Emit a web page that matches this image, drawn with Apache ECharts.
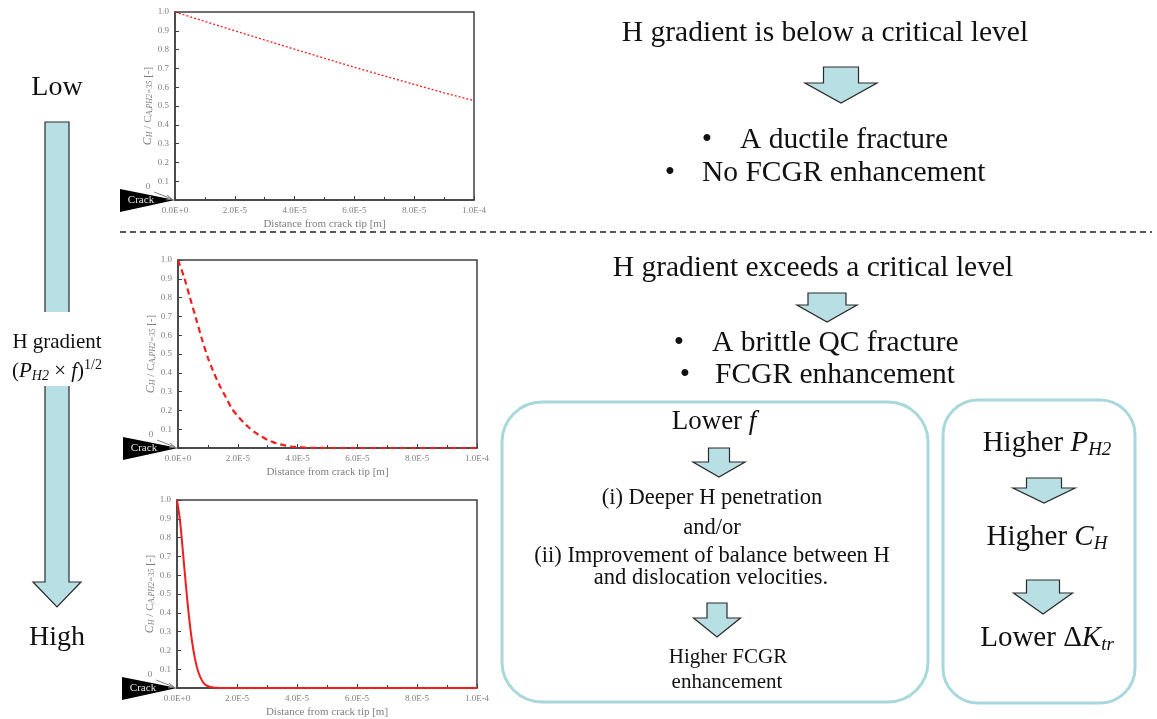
<!DOCTYPE html>
<html>
<head>
<meta charset="utf-8">
<script src="https://cdn.jsdelivr.net/npm/echarts@6/dist/echarts.min.js"></script>
<style>
  html, body { margin: 0; padding: 0; background: #fff; }
  #main { width: 1157px; height: 719px; }
</style>
</head>
<body>
<div id="main"></div>
<script>
// distance from crack tip [m] and normalised H concentration
var distLow = [0, 1e-5, 2e-5, 3e-5, 4e-5, 5e-5, 6e-5, 7e-5, 8e-5, 9e-5, 1e-4];
var concLow = [1.000, 0.950, 0.900, 0.851, 0.802, 0.754, 0.706, 0.660, 0.615, 0.570, 0.528];

var distMid = [0, 2e-6, 4e-6, 6e-6, 8e-6, 1e-5, 1.2e-5, 1.4e-5, 1.6e-5, 1.8e-5, 2e-5,
  2.2e-5, 2.4e-5, 2.6e-5, 2.8e-5, 3e-5, 3.2e-5, 3.4e-5, 3.6e-5, 3.8e-5, 4e-5,
  4.5e-5, 5e-5, 6e-5, 7e-5, 8e-5, 9e-5, 1e-4];
var concMid = [1.00, 0.91, 0.80, 0.69, 0.58, 0.48, 0.40, 0.33, 0.27, 0.21, 0.17,
  0.135, 0.105, 0.08, 0.06, 0.043, 0.03, 0.02, 0.013, 0.008, 0.005,
  0.001, 0, 0, 0, 0, 0, 0];

var distHigh = [0, 1e-6, 2e-6, 3e-6, 4e-6, 5e-6, 6e-6, 7e-6, 8e-6, 9e-6, 1e-5,
  1.2e-5, 1.4e-5, 1.6e-5, 2e-5, 4e-5, 6e-5, 8e-5, 1e-4];
var concHigh = [1.00, 0.89, 0.72, 0.54, 0.38, 0.25, 0.155, 0.09, 0.05, 0.025, 0.012,
  0.003, 0.0005, 0, 0, 0, 0, 0, 0];

var xTickLabels = ['0.0E+0', '2.0E-5', '4.0E-5', '6.0E-5', '8.0E-5', '1.0E-4'];
var yTickLabels = ['', '0.1', '0.2', '0.3', '0.4', '0.5', '0.6', '0.7', '0.8', '0.9', '1.0'];

var FONT = 'Liberation Serif, Times New Roman, serif';
var AXIS = '#404040';
var GREY = '#7f7f7f';
var ARROW_FILL = '#b8dfe3';
var BOX_LINE = '#a9d8dc';
var BIG = 29.5;

function zip(xs, ys) {
  return xs.map(function (x, i) { return [x, ys[i]]; });
}

var grids = [
  { left: 175, top: 12, width: 299, height: 188 },
  { left: 178, top: 260, width: 299, height: 188 },
  { left: 177, top: 500, width: 300, height: 188 }
];
var curves = [
  { data: zip(distLow, concLow), type: [2, 2], width: 1.3, smooth: false },
  { data: zip(distMid, concMid), type: [6, 4], width: 2.2, smooth: 0.3 },
  { data: zip(distHigh, concHigh), type: 'solid', width: 2, smooth: 0.3 }
];

var yName = '{i|C}{s|H}{n| / C}{s|A,PH2=35}{n| [-]}';

var option = {
  animation: false,
  backgroundColor: '#fff',
  grid: grids.map(function (g) {
    return Object.assign({ show: true, borderColor: AXIS, borderWidth: 1.5 }, g);
  }),
  xAxis: grids.map(function (g, i) {
    return {
      type: 'value', gridIndex: i, min: 0, max: 1e-4, interval: 2e-5,
      name: 'Distance from crack tip [m]', nameLocation: 'middle', nameGap: 19,
      nameTextStyle: { color: GREY, fontSize: 11, fontFamily: FONT },
      axisLine: { lineStyle: { color: AXIS, width: 1.5 } },
      axisTick: { inside: true, length: 4, lineStyle: { color: AXIS } },
      minorTick: { show: true, splitNumber: 2, length: 3, lineStyle: { color: AXIS } },
      splitLine: { show: false },
      axisLabel: {
        color: GREY, fontSize: 9, fontFamily: FONT, margin: 6,
        formatter: function (v) { return xTickLabels[Math.round(v / 2e-5)]; }
      }
    };
  }),
  yAxis: grids.map(function (g, i) {
    return {
      type: 'value', gridIndex: i, min: 0, max: 1, interval: 0.1,
      name: yName, nameLocation: 'middle', nameGap: 19,
      nameTextStyle: {
        color: GREY, fontFamily: FONT,
        rich: {
          n: { fontSize: 11, color: GREY, fontFamily: FONT },
          i: { fontSize: 12, color: GREY, fontFamily: FONT, fontStyle: 'italic' },
          s: { fontSize: 8, color: GREY, fontFamily: FONT, fontStyle: 'italic', verticalAlign: 'bottom' }
        }
      },
      axisLine: { lineStyle: { color: AXIS, width: 1.5 } },
      axisTick: { inside: true, length: 4, lineStyle: { color: AXIS } },
      splitLine: { show: false },
      axisLabel: {
        color: GREY, fontSize: 9, fontFamily: FONT, margin: 6,
        formatter: function (v) { return yTickLabels[Math.round(v * 10)]; }
      }
    };
  }),
  series: curves.map(function (c, i) {
    return {
      type: 'line', xAxisIndex: i, yAxisIndex: i, data: c.data,
      showSymbol: false, smooth: c.smooth,
      lineStyle: { color: '#f01e1e', width: c.width, type: c.type }
    };
  })
};

var chart = echarts.init(document.getElementById('main'));
chart.setOption(option);

// ---- diagram parts around the plots ----
function text(x, y, str, size, extra) {
  return {
    type: 'text', x: x, y: y, z: 20,
    style: Object.assign({
      text: str, fontSize: size, fontFamily: FONT, fill: '#111',
      align: 'center', verticalAlign: 'middle', textAlign: 'center', textVerticalAlign: 'middle'
    }, extra || {})
  };
}
function richSet(size) {
  var sub = Math.round(size * 0.66);
  return {
    n: { fontSize: size, fontFamily: FONT, fill: '#111', lineHeight: size + 4 },
    i: { fontSize: size, fontFamily: FONT, fill: '#111', fontStyle: 'italic', lineHeight: size + 4 },
    s: { fontSize: sub, fontFamily: FONT, fill: '#111', fontStyle: 'italic', verticalAlign: 'bottom', lineHeight: sub + 1 },
    sup: { fontSize: sub, fontFamily: FONT, fill: '#111', verticalAlign: 'top', lineHeight: sub + 2 }
  };
}
function richText(x, y, str, size) {
  return text(x, y, str, size, { rich: richSet(size) });
}
function blockArrow(cx, top, shaftW, headW, headTop, tip) {
  var s = shaftW / 2, h = headW / 2;
  return {
    type: 'polygon', z: 10,
    shape: { points: [[cx - s, top], [cx + s, top], [cx + s, headTop], [cx + h, headTop],
      [cx, tip], [cx - h, headTop], [cx - s, headTop]] },
    style: { fill: ARROW_FILL, stroke: '#2a2a2a', lineWidth: 1.2 }
  };
}
function bullet(bx, tx, y, str, size) {
  return [
    text(bx, y, '\u2022', size),
    text(tx, y, str, size, { align: 'left', textAlign: 'left' })
  ];
}

var graphics = [];

// left gradient arrow
graphics.push(blockArrow(57, 122, 24, 48, 582, 607));
graphics.push({ type: 'rect', z: 15, shape: { x: 30, y: 312, width: 56, height: 74 }, style: { fill: '#fff' } });
graphics.push(text(57, 88, 'Low', 28));
graphics.push(text(57, 638, 'High', 28));
graphics.push(text(57, 342, 'H gradient', 21));
graphics.push(richText(57, 371, '{n|(}{i|P}{s|H2}{n| \u00d7 }{i|f}{n|)}{sup|1/2}', 21));

// separator
graphics.push({ type: 'line', z: 5, shape: { x1: 120, y1: 232, x2: 1152, y2: 232 },
  style: { stroke: '#222', lineWidth: 1.5, lineDash: [6, 4] } });

// upper explanation
graphics.push(text(825, 33, 'H gradient is below a critical level', BIG));
graphics.push(blockArrow(841, 67, 35, 72, 83, 103));
graphics = graphics.concat(bullet(707, 740, 140, 'A ductile fracture', BIG));
graphics = graphics.concat(bullet(670, 702, 173, 'No FCGR enhancement', BIG));

// lower explanation
graphics.push(text(813, 268, 'H gradient exceeds a critical level', BIG));
graphics.push(blockArrow(827, 293, 38, 60, 305, 322));
graphics = graphics.concat(bullet(679, 712, 343, 'A brittle QC fracture', BIG));
graphics = graphics.concat(bullet(685, 715, 375, 'FCGR enhancement', BIG));

// frequency box
graphics.push({ type: 'rect', z: 5, shape: { x: 502, y: 402, width: 426, height: 300, r: 40 },
  style: { fill: 'none', stroke: BOX_LINE, lineWidth: 3 } });
graphics.push(richText(714, 422, '{n|Lower }{i|f}', 27));
graphics.push(blockArrow(719, 448, 21, 52, 462, 477));
graphics.push(text(712, 498, '(i) Deeper H penetration', 22.5));
graphics.push(text(712, 528, 'and/or', 22.5));
graphics.push(text(712, 556, '(ii) Improvement of balance between H', 22.5));
graphics.push(text(711, 578, 'and dislocation velocities.', 22.5));
graphics.push(blockArrow(717, 603, 20, 47, 618, 637));
graphics.push(text(728, 657, 'Higher FCGR', 21));
graphics.push(text(727, 682, 'enhancement', 21));

// pressure box
graphics.push({ type: 'rect', z: 5, shape: { x: 943, y: 400, width: 192, height: 303, r: 35 },
  style: { fill: 'none', stroke: BOX_LINE, lineWidth: 3 } });
graphics.push(richText(1047, 443, '{n|Higher }{i|P}{s|H2}', 29));
graphics.push(blockArrow(1044, 478, 35, 62, 488, 503));
graphics.push(richText(1047, 537, '{n|Higher }{i|C}{s|H}', 29));
graphics.push(blockArrow(1043, 580, 33, 59, 593, 614));
graphics.push(richText(1047, 638, '{n|Lower \u0394}{i|K}{s|tr}', 29));

// crack wedge at the origin of every plot
grids.forEach(function (g, i) {
  var o = chart.convertToPixel({ xAxisIndex: i, yAxisIndex: i }, [0, 0]);
  var ox = o[0], oy = o[1];
  graphics.push({ type: 'polygon', z: 12,
    shape: { points: [[ox - 55, oy - 11], [ox - 55, oy + 12], [ox, oy]] },
    style: { fill: '#000' } });
  graphics.push(text(ox - 34, oy, 'Crack', 11, { fill: '#e6e6e6' }));
  graphics.push(text(ox - 27, oy - 13, '0', 9, { fill: GREY }));
  graphics.push({ type: 'polyline', z: 13,
    shape: { points: [[ox - 21, oy - 8], [ox - 3, oy - 1]] },
    style: { stroke: GREY, lineWidth: 1, fill: null } });
  graphics.push({ type: 'polyline', z: 13,
    shape: { points: [[ox - 8, oy - 5], [ox - 3, oy - 1], [ox - 9, oy]] },
    style: { stroke: GREY, lineWidth: 1, fill: null } });
});

chart.setOption({ graphic: graphics });
</script>
</body>
</html>
